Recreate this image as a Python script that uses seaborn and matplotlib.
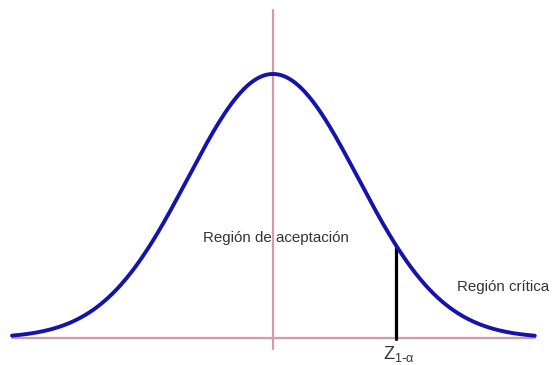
import numpy as np
import pandas as pd
import matplotlib
matplotlib.use('Agg')
import matplotlib.pyplot as plt
import seaborn as sns

sns.set_style('white')
plt.rcParams['font.family'] = ['Liberation Sans', 'DejaVu Sans']

# distribution parameters
mu = 0.0
sigma = 1.0
z_crit = 1.45
z_range = [-3.07, 3.08]
labels = ['Región de aceptación', 'Región crítica']

z = np.linspace(z_range[0], z_range[1], 400)
pdf = np.exp(-0.5 * ((z - mu) / sigma) ** 2) / (sigma * np.sqrt(2 * np.pi))
df = pd.DataFrame({'z': z, 'pdf': pdf})

fig = plt.figure(figsize=(5.53, 3.65), dpi=100)
ax = fig.add_axes([0, 0, 1, 1])

axis_col = '#d69aa2'
ax.plot([z_range[0], z_range[1]], [0, 0], color=axis_col, linewidth=1.6, zorder=1)
ax.plot([mu, mu], [-0.0166, 0.4956], color=axis_col, linewidth=1.6, zorder=1)

sns.lineplot(data=df, x='z', y='pdf', color='#1414aa', linewidth=2.8, ax=ax, zorder=3)

crit_h = np.exp(-0.5 * ((z_crit - mu) / sigma) ** 2) / (sigma * np.sqrt(2 * np.pi))
ax.plot([z_crit, z_crit], [-0.002, crit_h], color='black', linewidth=2.3, zorder=2)

txt_col = '#333333'
ax.text(0.04, 0.151, labels[0], ha='center', va='center', fontsize=10.9, color=txt_col)
ax.text(2.165, 0.077, labels[1], ha='left', va='center', fontsize=10.9, color=txt_col)
ax.text(1.29, -0.024, r'$\mathregular{Z_{1\text{-}\alpha}}$', ha='left', va='center',
        fontsize=13, color=txt_col)

ax.set_xlim(-273 / 85, 280 / 85)
ax.set_ylim(-27 / 264 * 0.3989, 338 / 264 * 0.3989)
ax.set_axis_off()

plt.savefig('out.png', dpi=100)
plt.close()
